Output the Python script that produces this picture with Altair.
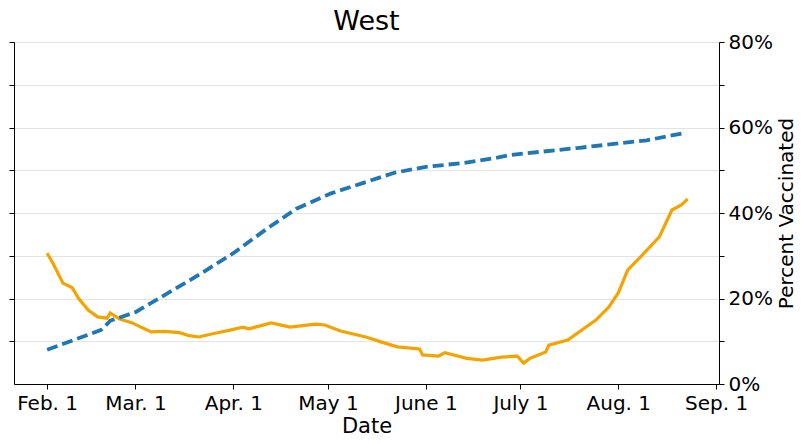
import altair as alt
import pandas as pd

chart_title = "West"
x_title = "Date"
y_title = "Percent Vaccinated"

month_labels = ["Jan. 1", "Feb. 1", "Mar. 1", "Apr. 1", "May 1", "June 1",
                "July 1", "Aug. 1", "Sep. 1", "Oct. 1", "Nov. 1", "Dec. 1"]
tick_months = [2, 3, 4, 5, 6, 7, 8, 9]
y_ticks = [0.0, 0.1, 0.2, 0.3, 0.4, 0.5, 0.6, 0.7, 0.8]

vacc_dates = ["2021-02-01", "2021-02-18", "2021-02-19", "2021-02-21", "2021-03-01",
              "2021-03-21", "2021-04-01", "2021-04-12", "2021-04-21", "2021-05-02",
              "2021-05-12", "2021-05-22", "2021-06-01", "2021-06-13", "2021-06-24",
              "2021-06-28", "2021-07-19", "2021-08-10", "2021-08-22"]
vacc_values = [0.080, 0.126, 0.132, 0.148, 0.168,
               0.255, 0.306, 0.365, 0.410, 0.446,
               0.470, 0.494, 0.508, 0.517, 0.530,
               0.536, 0.552, 0.570, 0.587]

case_dates = ["2021-02-01", "2021-02-03", "2021-02-06", "2021-02-09", "2021-02-11",
              "2021-02-14", "2021-02-17", "2021-02-20", "2021-02-21", "2021-02-24",
              "2021-02-28", "2021-03-03", "2021-03-06", "2021-03-10", "2021-03-15",
              "2021-03-18", "2021-03-21", "2021-03-27", "2021-03-31", "2021-04-04",
              "2021-04-06", "2021-04-13", "2021-04-19", "2021-04-27", "2021-04-30",
              "2021-05-05", "2021-05-13", "2021-05-18", "2021-05-23", "2021-05-30",
              "2021-05-31", "2021-06-05", "2021-06-07", "2021-06-14", "2021-06-19",
              "2021-06-25", "2021-06-30", "2021-07-02", "2021-07-04", "2021-07-09",
              "2021-07-10", "2021-07-16", "2021-07-20", "2021-07-25", "2021-07-29",
              "2021-08-01", "2021-08-04", "2021-08-08", "2021-08-14", "2021-08-18",
              "2021-08-21", "2021-08-23"]
case_values = [0.306, 0.280, 0.236, 0.225, 0.200,
               0.173, 0.157, 0.154, 0.166, 0.152,
               0.143, 0.132, 0.122, 0.123, 0.120,
               0.113, 0.110, 0.120, 0.126, 0.133,
               0.129, 0.143, 0.133, 0.140, 0.138,
               0.124, 0.110, 0.098, 0.087, 0.082,
               0.068, 0.065, 0.073, 0.060, 0.056,
               0.063, 0.065, 0.049, 0.060, 0.075,
               0.091, 0.103, 0.124, 0.150, 0.180,
               0.213, 0.267, 0.297, 0.344, 0.407,
               0.419, 0.433]

vacc_df = pd.DataFrame({"date": [d + "T00:00:00" for d in vacc_dates], "v": vacc_values})
case_df = pd.DataFrame({"date": [d + "T00:00:00" for d in case_dates], "v": case_values})

label_arr = "[" + ",".join("'" + s + "'" for s in month_labels) + "]"

x_scale = alt.Scale(domain=[alt.DateTime(year=2021, month=1, date=21, hours=12),
                            alt.DateTime(year=2021, month=9, date=1, hours=22)])
x_axis = alt.Axis(
    values=[alt.DateTime(year=2021, month=m, date=1) for m in tick_months],
    labelExpr=label_arr + "[month(datum.value)]",
    title=x_title, grid=False, tickColor="black", domainColor="black",
    tickSize=5, labelFontSize=20, titleFontSize=21, labelColor="black",
    titleColor="black", labelPadding=4, titleFontWeight="normal", titlePadding=2,
    labelFont="DejaVu Sans", titleFont="DejaVu Sans", labelOverlap=False,
)
y_scale = alt.Scale(domain=[0, 0.8], nice=False, zero=True)

left_axis = alt.Axis(orient="left", values=y_ticks[1:], labels=False, title=None,
                     grid=True, gridColor="#e3e3e3", tickColor="black",
                     domainColor="black", tickSize=5)
right_axis = alt.Axis(orient="right", values=y_ticks, format=".0%",
                      labelExpr="round(datum.value*10) % 2 == 0 ? datum.label : ''",
                      title=y_title, grid=False, tickColor="black", domainColor="black",
                      tickSize=5, labelFontSize=20, titleFontSize=20, labelColor="black",
                      titleColor="black", titleFontWeight="normal", labelPadding=4,
                      titleAngle=270, titleBaseline="top",
                      labelFont="DejaVu Sans", titleFont="DejaVu Sans", titlePadding=4)

cases = alt.Chart(case_df).mark_line(color="#f5a300", strokeWidth=3.2).encode(
    x=alt.X("date:T", scale=x_scale, axis=x_axis),
    y=alt.Y("v:Q", scale=y_scale, axis=left_axis),
)
vacc = alt.Chart(vacc_df).mark_line(color="#1f77b4", strokeWidth=3.8,
                                    strokeDash=[11, 5]).encode(
    x=alt.X("date:T", scale=x_scale, axis=x_axis),
    y=alt.Y("v:Q", scale=y_scale, axis=right_axis),
)

chart = alt.layer(cases, vacc).resolve_scale(y="shared").resolve_axis(y="independent").properties(
    width=705, height=342,
    autosize=alt.AutoSizeParams(type="none"),
    padding={"left": 6, "top": 34, "right": 78, "bottom": 52},
    title=alt.TitleParams(chart_title, fontSize=27, font="DejaVu Sans", frame="group",
                          fontWeight="normal", color="black", anchor="middle",
                          offset=-4),
).configure_view(stroke="black", strokeWidth=1.2).configure(background="white")

chart.save("out.html", embed_options={"renderer": "svg", "actions": False})
